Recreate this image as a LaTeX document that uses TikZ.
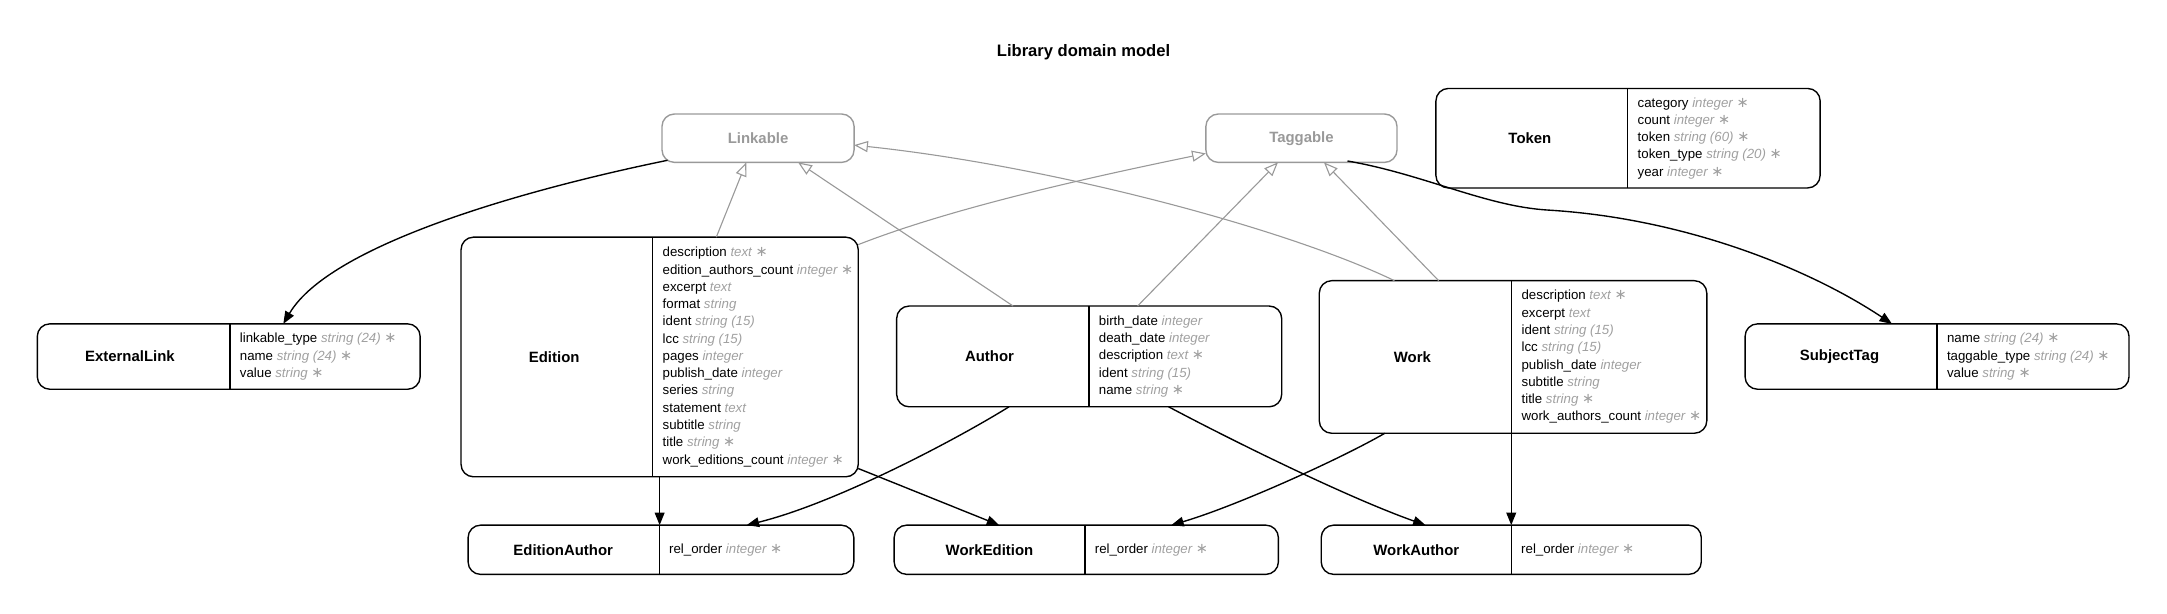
\documentclass[tikz,border=0pt]{standalone}
\usepackage{fontspec}
\setmainfont{Liberation Sans}
\newfontfamily\symfont{DejaVu Sans}
\usetikzlibrary{arrows.meta,calc}
\definecolor{lgray}{HTML}{999999}
\definecolor{tgray}{HTML}{A0A0A0}
\newcommand{\reqmark}{{\upshape\symfont\fontsize{10.5}{12.5}\selectfont ∗}}
\newcommand{\fld}[2]{\strut#1 {\color{tgray}\itshape#2}}
\newcommand{\fldr}[2]{\strut#1 {\color{tgray}\itshape#2 \reqmark}}
\tikzset{
  ent/.style={draw, line width=1pt, rounded corners=9pt, inner sep=0pt, outer sep=0pt},
  abstractbox/.style={draw=lgray, line width=1pt, rounded corners=9pt, inner sep=0pt, outer sep=0pt,
     text=lgray, font=\fontsize{10.8}{13}\selectfont\bfseries},
  ename/.style={font=\fontsize{10.8}{13}\selectfont\bfseries, inner sep=0pt},
  attrs/.style={anchor=west, align=left, inner sep=0pt, font=\fontsize{9.6}{12.5}\selectfont},
  divider/.style={line width=1pt},
  rel/.style={draw, line width=1pt, -{Triangle[length=9pt,width=7pt]}},
  inh/.style={draw=lgray, line width=0.8pt, -{Triangle[open,fill=white,length=10pt,width=8pt]}}
}
\begin{document}
\begin{tikzpicture}[x=1pt,y=-1pt]
\useasboundingbox (0,0) rectangle (1568,443.6);

\node[font=\fontsize{12}{14}\selectfont\bfseries, inner sep=0pt] (title) at (784,38) {Library domain model};

% abstract
\node[abstractbox, minimum width=139pt, minimum height=35pt] (linkable) at (548.5,100) {Linkable};
\node[abstractbox, minimum width=138.3pt, minimum height=35pt] (taggable) at (941.7,100) {Taggable};

% Token
\node[ent, minimum width=278pt, minimum height=72pt] (token) at (1178,100) {};
\draw[divider] (1177.8,64) -- (1177.8,136);
\node[ename] (tokenN) at (1107,100) {Token};
\node[attrs] (tokenA) at (1184.8,100) {\fldr{category}{integer}\\\fldr{count}{integer}\\\fldr{token}{string (60)}\\\fldr{token\_type}{string (20)}\\\fldr{year}{integer}};

% ExternalLink
\node[ent, minimum width=277pt, minimum height=47.3pt] (externallink) at (165.5,258) {};
\draw[divider] (166.4,234.35) -- (166.4,281.65);
\node[ename] (externallinkN) at (94,258) {ExternalLink};
\node[attrs] (externallinkA) at (173.4,258) {\fldr{linkable\_type}{string (24)}\\\fldr{name}{string (24)}\\\fldr{value}{string}};

% SubjectTag
\node[ent, minimum width=277.8pt, minimum height=47.3pt] (subjecttag) at (1401.6,258) {};
\draw[divider] (1401.6,234.35) -- (1401.6,281.65);
\node[ename] (subjecttagN) at (1331,258) {SubjectTag};
\node[attrs] (subjecttagA) at (1408.6,258) {\fldr{name}{string (24)}\\\fldr{taggable\_type}{string (24)}\\\fldr{value}{string}};

% Edition
\node[ent, minimum width=287.4pt, minimum height=173.4pt] (edition) at (477.3,258.3) {};
\draw[divider] (472.3,171.6) -- (472.3,345);
\node[ename] (editionN) at (401,258.3) {Edition};
\node[attrs] (editionA) at (479.3,258.3) {\fldr{description}{text}\\\fldr{edition\_authors\_count}{integer}\\\fld{excerpt}{text}\\\fld{format}{string}\\\fld{ident}{string (15)}\\\fld{lcc}{string (15)}\\\fld{pages}{integer}\\\fld{publish\_date}{integer}\\\fld{series}{string}\\\fld{statement}{text}\\\fld{subtitle}{string}\\\fldr{title}{string}\\\fldr{work\_editions\_count}{integer}};

% Author
\node[ent, minimum width=278.6pt, minimum height=72.9pt] (author) at (788.1,257.9) {};
\draw[divider] (788,221.45) -- (788,294.35);
\node[ename] (authorN) at (716,257.9) {Author};
\node[attrs] (authorA) at (795,257.9) {\fld{birth\_date}{integer}\\\fld{death\_date}{integer}\\\fldr{description}{text}\\\fld{ident}{string (15)}\\\fldr{name}{string}};

% Work
\node[ent, minimum width=280.4pt, minimum height=110.4pt] (work) at (1094.8,258.3) {};
\draw[divider] (1093.8,203.1) -- (1093.8,313.5);
\node[ename] (workN) at (1022,258.3) {Work};
\node[attrs] (workA) at (1100.8,258.3) {\fldr{description}{text}\\\fld{excerpt}{text}\\\fld{ident}{string (15)}\\\fld{lcc}{string (15)}\\\fld{publish\_date}{integer}\\\fld{subtitle}{string}\\\fldr{title}{string}\\\fldr{work\_authors\_count}{integer}};

% join tables
\node[ent, minimum width=279.1pt, minimum height=35.6pt] (editionauthor) at (478.25,397.8) {};
\draw[divider] (477,380) -- (477,415.6);
\node[ename] (editionauthorN) at (407.5,397.8) {EditionAuthor};
\node[attrs] (editionauthorA) at (484,397.8) {\fldr{rel\_order}{integer}};

\node[ent, minimum width=278pt, minimum height=35.6pt] (workedition) at (786,397.8) {};
\draw[divider] (785,380) -- (785,415.6);
\node[ename] (workeditionN) at (716,397.8) {WorkEdition};
\node[attrs] (workeditionA) at (792,397.8) {\fldr{rel\_order}{integer}};

\node[ent, minimum width=275pt, minimum height=35.6pt] (workauthor) at (1093.5,397.8) {};
\draw[divider] (1093.5,380) -- (1093.5,415.6);
\node[ename] (workauthorN) at (1024.8,397.8) {WorkAuthor};
\node[attrs] (workauthorA) at (1100.5,397.8) {\fldr{rel\_order}{integer}};

% associations
\draw[rel] ([xshift=4pt,yshift=1.5pt]linkable.south west) .. controls (390,135) and (240,175) .. ([xshift=39.5pt]externallink.north);
\draw[rel] ([xshift=33.3pt,yshift=1pt]taggable.south) .. controls (1030,126) and (1075,149.3) .. (1120,152) .. controls (1220,158) and (1310,195) .. ([xshift=-32.6pt]subjecttag.north);
\draw[rel] (edition.south) -- (edition.south |- editionauthor.north);
\draw[rel] ([yshift=6pt]edition.south east) -- ([xshift=-63pt]workedition.north);
\draw[rel] ([xshift=-58pt]author.south) .. controls (692,318) and (605,364) .. ([xshift=62pt]editionauthor.north);
\draw[rel] ([xshift=57.5pt]author.south) .. controls (890,318) and (975,360) .. ([xshift=-62pt]workauthor.north);
\draw[rel] ([xshift=-92.8pt]work.south) .. controls (970,332) and (895,366) .. ([xshift=61.5pt]workedition.north);
\draw[rel] (work.south -| workauthor.north) -- (workauthor.north);

% inheritance
\draw[inh] ([xshift=41pt]edition.north) -- ([xshift=-8.5pt]linkable.south);
\draw[inh] ([xshift=-55pt]author.north) -- ([xshift=29pt]linkable.south);
\draw[inh] ([xshift=-85.8pt]work.north) .. controls (930,165) and (760,120) .. ([yshift=-5pt]linkable.east);
\draw[inh] ([yshift=-5.4pt]edition.north east) .. controls (690,150) and (790,128) .. ([yshift=-11pt]taggable.west);
\draw[inh] ([xshift=35pt]author.north) -- ([xshift=-17pt]taggable.south);
\draw[inh] ([xshift=-53.8pt]work.north) -- ([xshift=16.3pt]taggable.south);
\end{tikzpicture}
\end{document}
